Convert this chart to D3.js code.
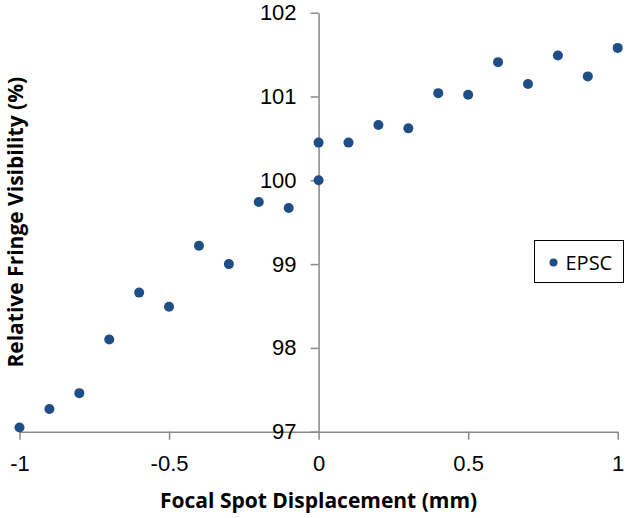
<!DOCTYPE html>
<html>
<head>
<meta charset="utf-8">
<script src="https://cdn.jsdelivr.net/npm/d3@7"></script>
<style>
  body { margin: 0; background: #fff; }
  svg { display: block; font-family: "Open Sans", sans-serif; }
  .axis path, .axis line { stroke: #898989; stroke-width: 1.5; }
  .axis text { font-size: 22px; fill: #000; }
  .title { font-size: 21px; font-weight: bold; fill: #000; }
</style>
</head>
<body>
<div id="chart"></div>
<script>
// Focal spot displacement (mm)
const xValues = [-1, -0.9, -0.8, -0.7, -0.6, -0.5, -0.4, -0.3, -0.2, -0.1, 0, 0,
                 0.1, 0.2, 0.3, 0.4, 0.5, 0.6, 0.7, 0.8, 0.9, 1];
// Relative fringe visibility (%)
const yValues = [97.05, 97.27, 97.46, 98.10, 98.66, 98.49, 99.22, 99.00, 99.74, 99.67, 100.00, 100.45,
                 100.45, 100.66, 100.62, 101.04, 101.02, 101.41, 101.15, 101.49, 101.24, 101.58];
const xTicks = [-1, -0.5, 0, 0.5, 1];
const yTicks = [97, 98, 99, 100, 101, 102];
const seriesName = 'EPSC';

const width = 630, height = 518;
const color = '#1f4e87';

const svg = d3.select('#chart').append('svg')
    .attr('width', width)
    .attr('height', height);

const x = d3.scaleLinear().domain([-1, 1]).range([19.5, 617.7]);
const y = d3.scaleLinear().domain([97, 102]).range([431.7, 12.7]);

// x axis along the bottom
const xAxis = svg.append('g')
    .attr('class', 'axis')
    .attr('transform', `translate(0,${y(97)})`)
    .call(d3.axisBottom(x)
        .tickValues(xTicks)
        .tickFormat(d => String(d))
        .tickSize(8)
        .tickSizeOuter(0)
        .tickPadding(16));

// y axis crossing at x = 0
const yAxis = svg.append('g')
    .attr('class', 'axis')
    .attr('transform', `translate(${x(0)},0)`)
    .call(d3.axisLeft(y)
        .tickValues(yTicks)
        .tickFormat(d => String(d))
        .tickSize(8)
        .tickSizeOuter(0)
        .tickPadding(14));

svg.selectAll('.axis .domain').attr('fill', 'none');

// points
svg.append('g')
    .selectAll('circle')
    .data(xValues.map((v, i) => ({ x: v, y: yValues[i] })))
    .enter()
    .append('circle')
    .attr('cx', d => x(d.x))
    .attr('cy', d => y(d.y))
    .attr('r', 5)
    .attr('fill', color);

// axis titles
svg.append('text')
    .attr('class', 'title')
    .attr('x', x(0))
    .attr('y', 508)
    .attr('text-anchor', 'middle')
    .text('Focal Spot Displacement (mm)');

svg.append('text')
    .attr('class', 'title')
    .attr('transform', `translate(23,${y(99.5)}) rotate(-90)`)
    .attr('text-anchor', 'middle')
    .text('Relative Fringe Visibility (%)');

// legend
const legend = svg.append('g').attr('transform', 'translate(534.5,240.5)');
legend.append('rect')
    .attr('width', 89)
    .attr('height', 42)
    .attr('fill', '#fff')
    .attr('stroke', '#000')
    .attr('stroke-width', 1);
legend.append('circle')
    .attr('cx', 19)
    .attr('cy', 22)
    .attr('r', 4)
    .attr('fill', color);
legend.append('text')
    .attr('x', 31)
    .attr('y', 29)
    .attr('font-size', 20)
    .text(seriesName);
</script>
</body>
</html>
